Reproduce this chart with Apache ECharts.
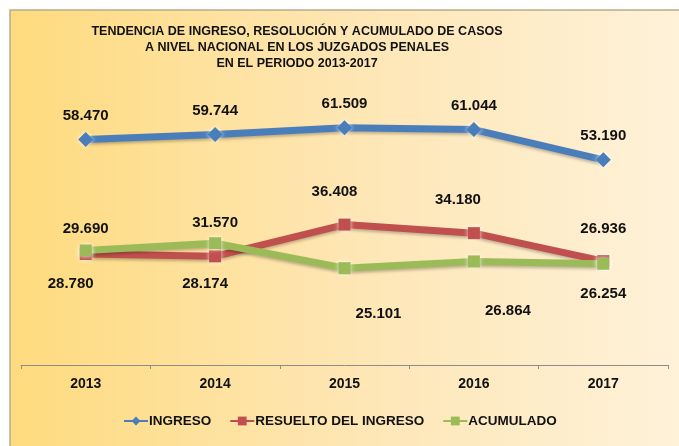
<!DOCTYPE html>
<html>
<head>
<meta charset="utf-8">
<script src="https://cdn.jsdelivr.net/npm/echarts@6/dist/echarts.min.js"></script>
<style>
  html, body { margin: 0; padding: 0; background: #fff; }
  #chart { width: 679px; height: 446px; }
</style>
</head>
<body>
<div id="chart"></div>
<script>
// datos
const years = ['2013', '2014', '2015', '2016', '2017']
const ingreso = [58470, 59744, 61509, 61044, 53190]
const resuelto = [28780, 28174, 36408, 34180, 26936]
const acumulado = [29690, 31570, 25101, 26864, 26254]

const font = '"Liberation Sans", Arial, sans-serif'

// formato 58.470
function fmt(v) {
  return String(v).replace(/\B(?=(\d{3})+(?!\d))/g, '.')
}

// etiqueta por punto: posición, distancia, desplazamiento horizontal
function lbl(position, distance, dx) {
  return { position, distance, offset: [dx || 0, 0] }
}

const redLabels = [lbl('bottom', 16, -15), lbl('bottom', 14, -10), lbl('top', 19, -10), lbl('top', 20, -16), lbl('top', 19, 0)]
const greenLabels = [lbl('top', 8, 0), lbl('top', 7, 0), lbl('bottom', 32, 34), lbl('bottom', 36, 34), lbl('bottom', 17, 0)]

function withLabels(values, labels) {
  return values.map((v, i) => ({ value: v, label: labels[i] }))
}

function lineSeries(name, data, color, symbol, size) {
  return {
    name,
    type: 'line',
    data,
    symbol,
    symbolSize: size,
    lineStyle: {
      width: 7,
      color,
      shadowBlur: 3,
      shadowColor: 'rgba(0,0,0,0.25)',
      shadowOffsetY: 2
    },
    itemStyle: {
      color,
      borderWidth: 0,
      shadowBlur: 4,
      shadowColor: 'rgba(255,255,255,0.8)'
    },
    label: {
      show: true,
      position: 'top',
      distance: 9,
      color: '#111',
      fontFamily: font,
      fontWeight: 'bold',
      fontSize: 15,
      formatter: (p) => fmt(p.value)
    },
    emphasis: { disabled: true },
    z: 3
  }
}

const chart = echarts.init(document.getElementById('chart'), null, { renderer: 'canvas' })

chart.setOption({
  animation: false,
  backgroundColor: '#ffffff',
  graphic: [{
    type: 'rect',
    z: -10,
    shape: { x: 10, y: 10, width: 680, height: 450 },
    style: {
      fill: new echarts.graphic.LinearGradient(0, 0, 1, 0, [
        { offset: 0, color: '#fedb7e' },
        { offset: 0.5, color: '#fee6b4' },
        { offset: 1, color: '#fef2da' }
      ]),
      stroke: '#b9ab8c',
      lineWidth: 1.5
    },
    silent: true
  }],
  title: {
    text: 'TENDENCIA DE INGRESO, RESOLUCIÓN Y ACUMULADO DE CASOS\nA NIVEL NACIONAL EN LOS JUZGADOS PENALES\nEN EL PERIODO 2013-2017',
    left: 292,
    top: 19,
    textAlign: 'center',
    textStyle: {
      fontFamily: font,
      fontWeight: 'bold',
      fontSize: 12.5,
      lineHeight: 16,
      color: '#111'
    }
  },
  legend: {
    bottom: 13,
    left: 118,
    itemWidth: 24,
    itemHeight: 11,
    itemGap: 18,
    textStyle: {
      fontFamily: font,
      fontWeight: 'bold',
      fontSize: 13.5,
      color: '#111',
      padding: [0, 0, 0, -4]
    },
    data: ['INGRESO', 'RESUELTO DEL INGRESO', 'ACUMULADO']
  },
  grid: { left: 21, right: 11, top: 95, bottom: 81 },
  xAxis: {
    type: 'category',
    data: years,
    boundaryGap: true,
    axisLine: { lineStyle: { color: '#8c8c8c', width: 1 } },
    axisTick: { show: true, length: 4, interval: 0, lineStyle: { color: '#8c8c8c' } },
    axisLabel: {
      margin: 12,
      color: '#111',
      fontFamily: font,
      fontWeight: 'bold',
      fontSize: 14
    }
  },
  yAxis: {
    type: 'value',
    min: 0,
    max: 70000,
    show: false,
    splitLine: { show: false }
  },
  series: [
    lineSeries('INGRESO', ingreso, '#4a7ebb', 'diamond', 15),
    lineSeries('RESUELTO DEL INGRESO', withLabels(resuelto, redLabels), '#c0504d', 'rect', 12),
    lineSeries('ACUMULADO', withLabels(acumulado, greenLabels), '#9bbb59', 'rect', 12)
  ]
})
</script>
</body>
</html>
